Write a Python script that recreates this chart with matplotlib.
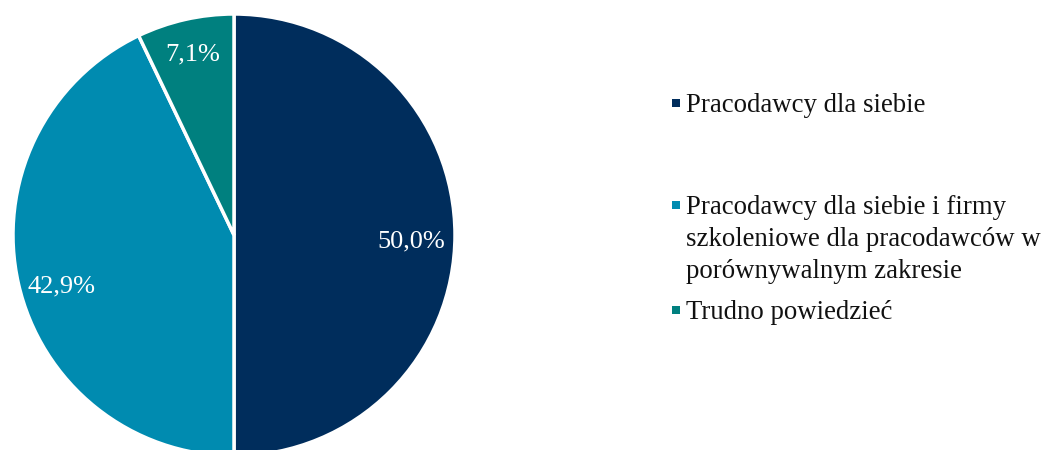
import matplotlib
matplotlib.use("Agg")
import matplotlib.pyplot as plt
import numpy as np
from matplotlib.patches import Rectangle

categories = [
    "Pracodawcy dla siebie",
    "Pracodawcy dla siebie i firmy\nszkoleniowe dla pracodawców w\nporównywalnym zakresie",
    "Trudno powiedzieć",
]
values = [50.0, 42.9, 7.1]
colors = ["#002D5C", "#008BB0", "#00807F"]

plt.rcParams["font.family"] = ["Liberation Serif", "DejaVu Serif"]

W, H = 1042, 450
fig = plt.figure(figsize=(W / 100, H / 100), dpi=100)

# pie: center (234, 235) px, radius 221 px
cx, cy, r = 234, 235, 221
ax = fig.add_axes([(cx - r) / W, (H - cy - r) / H, 2 * r / W, 2 * r / H])
wedges, texts, autotexts = ax.pie(
    values,
    colors=colors,
    startangle=90,
    counterclock=False,
    autopct=lambda p: f"{p:.1f}%".replace(".", ","),
    wedgeprops=dict(edgecolor="white", linewidth=2.5),
    textprops=dict(color="white", fontsize=19),
)
for w in wedges:
    w.set_clip_on(False)

# label distance and vertical nudge per slice
label_dist = [0.80, 0.80, 0.85]
label_dy = [-0.03, -0.055, -0.012]
for w, t, d, dy in zip(wedges, autotexts, label_dist, label_dy):
    theta = np.deg2rad((w.theta1 + w.theta2) / 2)
    t.set_position((d * np.cos(theta), d * np.sin(theta) + dy))

ax.set_xlim(-1, 1)
ax.set_ylim(-1, 1)
ax.set_aspect("equal")
ax.axis("off")

# legend drawn by hand to keep the uneven row spacing
rows_y = [103, 205, 310]
for label, color, y in zip(categories, colors, rows_y):
    fig.patches.append(Rectangle((672 / W, (H - y - 4) / H), 8 / W, 8 / H,
                                 transform=fig.transFigure, facecolor=color,
                                 edgecolor="none"))
    fig.text(686 / W, (H - y + 10) / H, label, fontsize=19.3, color="#111111",
             ha="left", va="top", linespacing=1.36)

fig.savefig("out.png", dpi=100)
